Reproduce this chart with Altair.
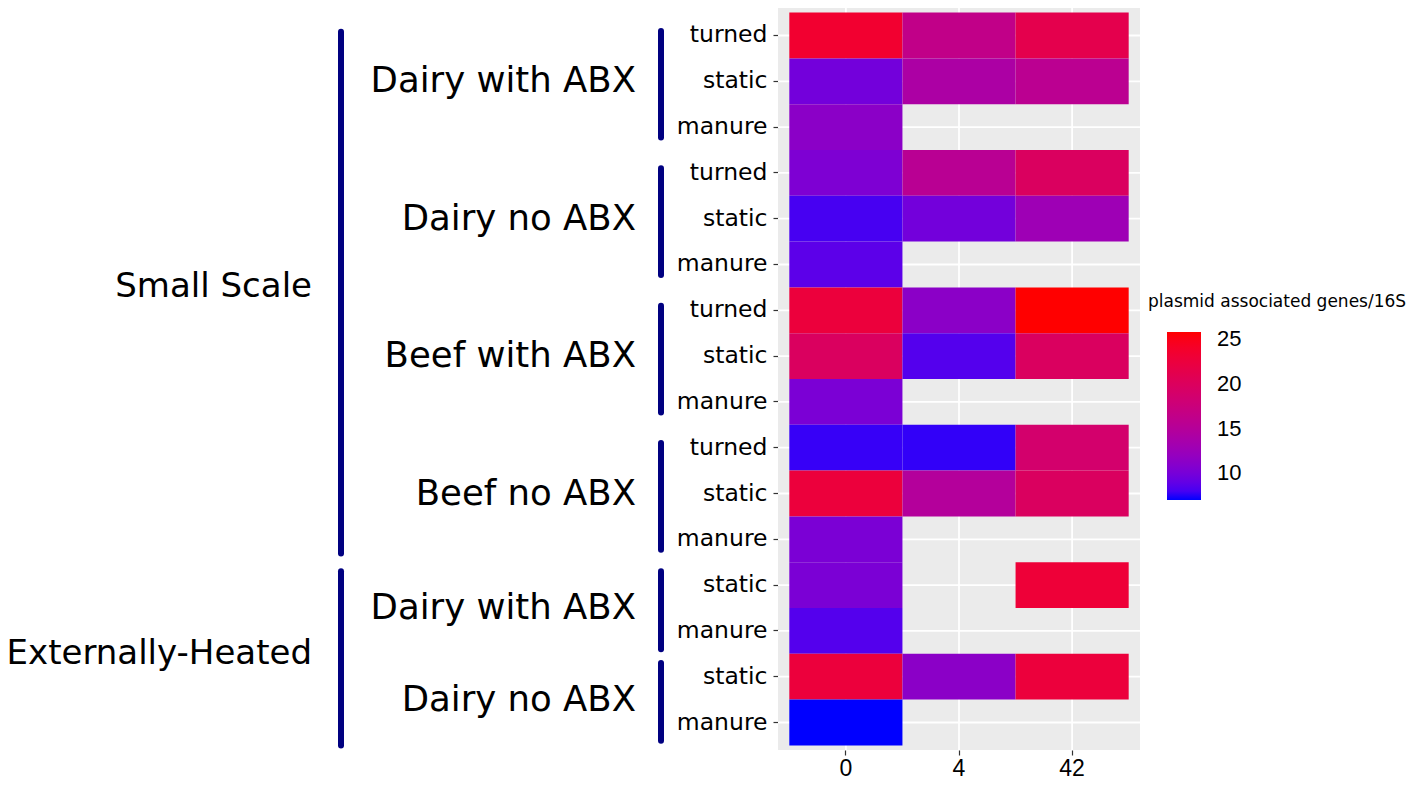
import altair as alt
import pandas as pd

# ---------------- data ----------------
days = ["0", "4", "42"]
scale_groups = ["Small Scale"] * 12 + ["Externally-Heated"] * 4
herd_groups = (["Dairy with ABX"] * 3 + ["Dairy no ABX"] * 3 + ["Beef with ABX"] * 3
               + ["Beef no ABX"] * 3 + ["Dairy with ABX"] * 2 + ["Dairy no ABX"] * 2)
row_labels = ["turned", "static", "manure",
              "turned", "static", "manure",
              "turned", "static", "manure",
              "turned", "static", "manure",
              "static", "manure",
              "static ", "manure"]
day0_values = [23.5, 9.8, 11.3, 10.4, 8.0, 8.7, 22.6, 19.8, 10.2, 7.6, 22.6, 10.2, 10.2, 8.4, 22.6, 7.0]
day4_values = [16.4, 14.1, None, 15.5, 9.8, None, 11.3, 8.4, None, 7.5, 14.9, None, None, None, 11.3, None]
day42_values = [21.3, 15.7, None, 19.8, 12.8, None, 25.8, 19.8, None, 18.7, 19.8, None, 22.9, None, 22.6, None]

legend_title = "plasmid associated genes/16S"
legend_ticks = [10, 15, 20, 25]
color_domain = [7.0, 25.8]

# group annotations
inner_labels = ["Dairy with ABX", "Dairy no ABX", "Beef with ABX", "Beef no ABX", "Dairy with ABX", "Dairy no ABX"]
inner_first = [1, 4, 7, 10, 13, 15]
inner_last = [3, 6, 9, 12, 14, 16]
outer_labels = ["Small Scale", "Externally-Heated"]
outer_first = [1, 13]
outer_last = [12, 16]

# ---------------- tables ----------------
row_keys = [f"{i + 1:02d}|{lab}" for i, lab in enumerate(row_labels)]

recs = []
for i, k in enumerate(row_keys):
    for d, arr in zip(days, [day0_values, day4_values, day42_values]):
        if arr[i] is not None:
            recs.append({"row": k, "day": d, "value": arr[i],
                         "scale": scale_groups[i], "herd": herd_groups[i]})
df = pd.DataFrame(recs)


def key(n):
    return row_keys[n - 1]


inner3 = pd.DataFrame([{"row": key(f + 1), "label": l}
                       for l, f, e in zip(inner_labels, inner_first, inner_last) if e - f == 2])
inner2 = pd.DataFrame([{"row": key(f), "label": l}
                       for l, f, e in zip(inner_labels, inner_first, inner_last) if e - f == 1])
outer_txt = pd.DataFrame([{"row": key((f + e) // 2), "label": l}
                          for l, f, e in zip(outer_labels, outer_first, outer_last)])
br3 = pd.DataFrame({"row": [key(f) for f, e in zip(inner_first, inner_last) if e - f == 2],
                    "r2": [key(e) for f, e in zip(inner_first, inner_last) if e - f == 2]})
br2 = pd.DataFrame({"row": [key(f) for f, e in zip(inner_first, inner_last) if e - f == 1],
                    "r2": [key(e) for f, e in zip(inner_first, inner_last) if e - f == 1]})
br_o1 = pd.DataFrame({"row": [key(outer_first[0])], "r2": [key(outer_last[0])]})
br_o2 = pd.DataFrame({"row": [key(outer_first[1])], "r2": [key(outer_last[1])]})
grid_rows = pd.DataFrame({"row": row_keys})
grid_days = pd.DataFrame({"day": days})

# ---------------- chart ----------------
W, H = 362, 742
yscale = alt.Scale(domain=row_keys, paddingInner=0, paddingOuter=0.1)
xscale = alt.Scale(domain=days, paddingInner=0, paddingOuter=0.1)
NAVY = "#000080"

yaxis = alt.Axis(labelExpr="split(datum.label, '|')[1]", labelFont="DejaVu Sans",
                 labelFontSize=23.5, labelColor="#000000", tickSize=5,
                 tickColor="#333333", tickWidth=1.2, domain=False, grid=False,
                 labelPadding=6, title=None)
xaxis = alt.Axis(labelAngle=0, labelFont="Liberation Sans", labelFontSize=23,
                 labelColor="#000000", tickSize=5, tickColor="#333333", tickWidth=1.2,
                 domain=False, grid=False, labelPadding=2, title=None)


def Y(field="row", bp=0.5):
    return alt.Y(f"{field}:N", scale=yscale, axis=yaxis, bandPosition=bp, title=None)


# grid lines (drawn below the tiles)
grid_h = alt.Chart(grid_rows).mark_rule(color="#FFFFFF", strokeWidth=1.8).encode(
    y=Y(), x=alt.value(0), x2=alt.value(W))
grid_v = alt.Chart(grid_days).mark_rule(color="#FFFFFF", strokeWidth=1.8).encode(
    x=alt.X("day:N", scale=xscale, axis=xaxis, bandPosition=0.5, title=None),
    y=alt.value(0), y2=alt.value(H))

heat = alt.Chart(df).mark_rect().encode(
    x=alt.X("day:N", scale=xscale, axis=xaxis, title=None),
    y=alt.Y("row:N", scale=yscale, axis=yaxis, title=None),
    color=alt.Color("value:Q",
                    scale=alt.Scale(domain=color_domain, range=["#0000FF", "#FF0000"],
                                    interpolate="lab"),
                    legend=alt.Legend(title=None, orient="none", legendX=389, legendY=324,
                                      gradientLength=168, gradientThickness=34,
                                      values=legend_ticks, labelFont="Liberation Sans",
                                      labelFontSize=22, labelColor="#000000",
                                      labelOffset=16, gradientStrokeWidth=0)),
)

txt = dict(align="right", baseline="middle", font="DejaVu Sans", fontSize=35.5, color="#000000")
txt_outer = dict(txt, fontSize=34)
t_inner3 = alt.Chart(inner3).mark_text(**txt).encode(
    y=Y("row", 0.5), x=alt.value(-142), text="label:N")
t_inner2 = alt.Chart(inner2).mark_text(**txt).encode(
    y=Y("row", 1.0), x=alt.value(-142), text="label:N")
t_outer = alt.Chart(outer_txt).mark_text(**txt_outer).encode(
    y=Y("row", 1.0), x=alt.value(-466), text="label:N")


def bracket(data, b1, b2, xpix):
    return alt.Chart(data).mark_rule(color=NAVY, strokeWidth=6, strokeCap="round").encode(
        y=Y("row", b1), y2=alt.Y2("r2:N", bandPosition=b2), x=alt.value(xpix))


b3 = bracket(br3, 0.4, 0.73, -117)
b2 = bracket(br2, 0.2, 0.9, -117)
bo1 = bracket(br_o1, 0.42, 0.81, -437)
bo2 = bracket(br_o2, 0.2, 1.0, -437)

ltitle = alt.Chart(pd.DataFrame({"t": [legend_title]})).mark_text(
    align="left", baseline="middle", font="DejaVu Sans", fontSize=17, color="#000000").encode(
    x=alt.value(370), y=alt.value(294), text="t:N")

chart = alt.layer(grid_h, grid_v, heat, b3, b2, bo1, bo2, t_inner3, t_inner2, t_outer,
                  ltitle).properties(
    width=W, height=H,
    background="#FFFFFF",
    autosize=alt.AutoSizeParams(type="none"),
    padding={"left": 770, "top": 0, "right": 270, "bottom": 30},
).configure_view(fill="#EBEBEB", strokeWidth=0)

chart.save("out.html", embed_options={"renderer": "svg", "actions": False})
